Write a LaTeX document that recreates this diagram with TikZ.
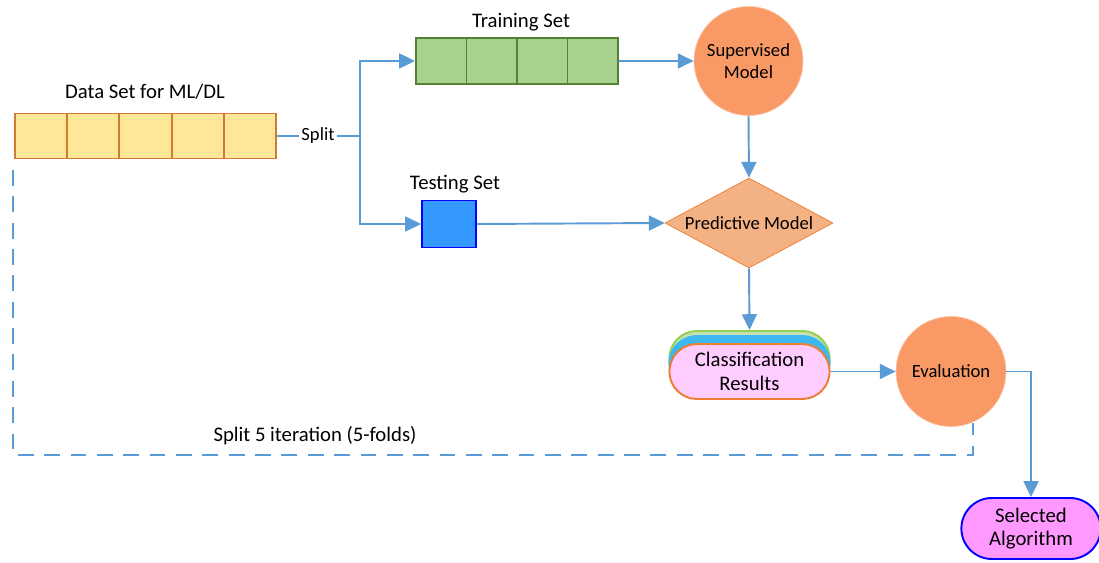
\documentclass[tikz,border=0pt]{standalone}
\usepackage{fontspec}
\setmainfont{Carlito}
\usetikzlibrary{arrows.meta,shapes.geometric,shapes.misc}
\definecolor{lineblue}{HTML}{5B9BD5}
\definecolor{dsfill}{HTML}{FFE699}
\definecolor{dsedge}{HTML}{D27A31}
\definecolor{trfill}{HTML}{A9D18E}
\definecolor{tredge}{HTML}{548235}
\definecolor{tsfill}{HTML}{3399FF}
\definecolor{ballfill}{HTML}{F99A66}
\definecolor{prfill}{HTML}{F4B183}
\definecolor{predge}{HTML}{ED7D31}
\definecolor{resfill}{HTML}{FFCCFF}
\definecolor{resgreen}{HTML}{C5E0B4}
\definecolor{resgreenedge}{HTML}{92D050}
\definecolor{resblue}{HTML}{3DB7F0}
\definecolor{selfill}{HTML}{FF99FF}
\begin{document}
\begin{tikzpicture}[x=0.02cm,y=-0.02cm,
  big/.style={font=\fontsize{11.8}{13.5}\selectfont},
  small/.style={font=\fontsize{10.6}{12.5}\selectfont},
  conn/.style={draw=lineblue,line width=1.1pt},
  arr/.style={conn,-{Triangle[length=9pt,width=8.5pt]}},
  dcell/.style={draw=dsedge,fill=dsfill,line width=1.1pt,inner sep=0pt,
    minimum width=1.044cm,minimum height=0.9cm},
  tcell/.style={draw=tredge,fill=trfill,line width=1.1pt,inner sep=0pt,
    minimum width=1.01cm,minimum height=0.93cm},
  ball/.style={circle,fill=ballfill,draw=ballfill!60!white,align=center,
    inner sep=0pt,small},
  pill/.style={rounded rectangle,line width=1.1pt,align=center,big,
    minimum width=3.44cm,minimum height=1.1cm}]
  \useasboundingbox (0,0) rectangle (1099,563);

  % Data set
  \foreach \i in {1,...,5}
    \node[dcell] (d\i) at ({15+52.2*(\i-0.5)},136) {};
  \node[big] (dlab) at (145,92) {Data Set for ML/DL};

  % Split
  \node[small,inner sep=1pt] (split) at (318,136) {Split};
  \coordinate (fork) at (360,136);
  \draw[conn] (d5.east) -- (split.west);
  \draw[conn] (split.east) -- (fork);

  % Training set
  \foreach \i in {1,...,4}
    \node[tcell] (t\i) at ({416+50.5*(\i-0.5)},61) {};
  \node[big] (tlab) at (521,22) {Training Set};

  % Testing set
  \node[draw=blue,fill=tsfill,line width=1.1pt,inner sep=0pt,
    minimum width=1.08cm,minimum height=0.94cm] (test) at (449,224) {};
  \node[big] (slab) at (455,184) {Testing Set};

  % Models
  \node[ball,minimum size=2.18cm] (sup) at (748.5,61) {Supervised\\Model};
  \node[diamond,aspect=1.87,fill=prfill,draw=predge,inner sep=0pt,
    minimum width=3.36cm,minimum height=1.8cm,small] (pred) at (749,223)
    {Predictive Model};

  % Classification results
  \node[pill,draw=resgreenedge,fill=resgreen] (res3) at (749.5,358.5) {};
  \node[pill,draw=resblue,fill=resblue] (res2) at (749.5,363.5) {};
  \node[pill,draw=predge,fill=resfill] (res) at (749.5,371.5)
    {Classification\\Results};

  % Evaluation and selection
  \node[ball,minimum size=2.2cm] (eval) at (951,371.5) {Evaluation};
  \node[pill,draw=blue,fill=selfill,minimum width=3.02cm,
    minimum height=1.22cm] (sel) at (1031,528.5) {Selected\\Algorithm};

  % Connectors
  \draw[arr] (fork) |- (t1.west);
  \draw[arr] (fork) |- (test.west);
  \draw[arr] (t4.east) -- (sup.west);
  \draw[arr] (test.east) -- (pred.west);
  \draw[arr] (sup.south) -- (pred.north);
  \draw[arr] (pred.south) -- (res3.north);
  \draw[arr] (res.east) -- (eval.west);
  \draw[arr] (eval.east) -| (sel.north);

  % 5-fold loop
  \coordinate (loopa) at (13,170);
  \coordinate (loopb) at (973,423);
  \draw[conn,dash pattern=on 9pt off 6pt] (loopa) -- ++(0,285) -| (loopb);
  \node[big] (flab) at (315,436) {Split 5 iteration (5-folds)};
\end{tikzpicture}
\end{document}
